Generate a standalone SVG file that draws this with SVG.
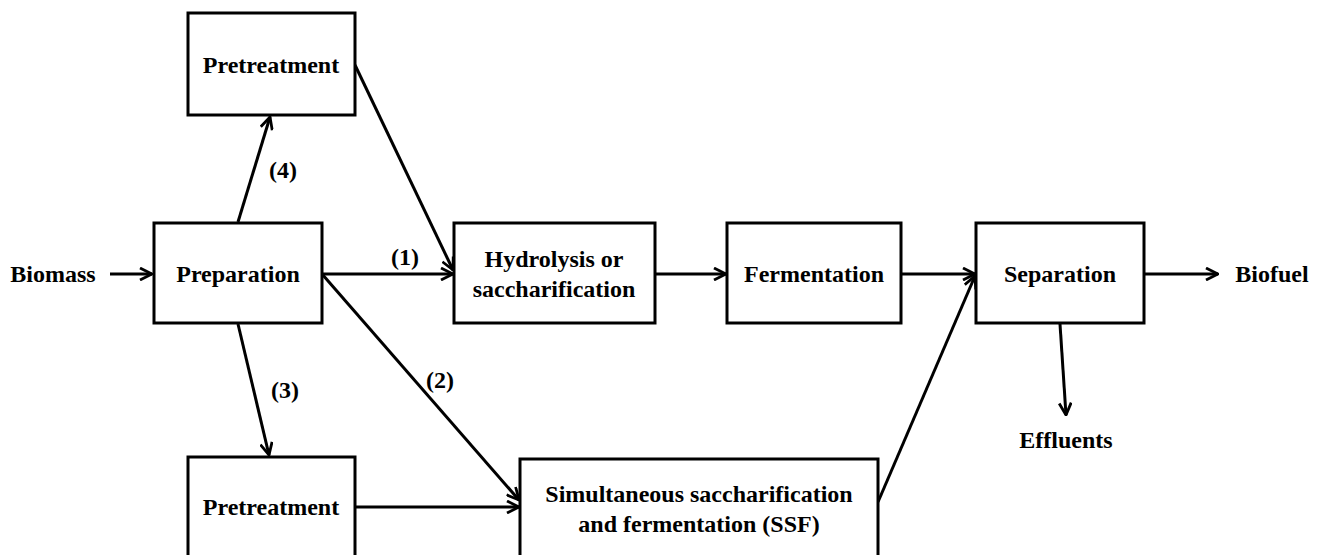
<svg xmlns="http://www.w3.org/2000/svg" width="1322" height="555" viewBox="0 0 1322 555">
<style>
.box{fill:#fff;stroke:#000;stroke-width:3}
.t{font-family:"Liberation Serif","Times New Roman",serif;font-weight:bold;font-size:24px;fill:#000;text-anchor:middle}
.c{stroke:#000;stroke-width:3;fill:none;marker-end:url(#ah)}
</style>
<defs>
<marker id="ah" viewBox="0 0 14 14" refX="13" refY="7" markerWidth="14" markerHeight="14" markerUnits="userSpaceOnUse" orient="auto">
<path d="M1,1 L13,7 L1,13" fill="none" stroke="#000" stroke-width="2.8"/>
</marker>
</defs>
<rect width="1322" height="555" fill="#fff"/>
<g id="connectors">
<line class="c" x1="110" y1="274" x2="152" y2="274"/>
<line class="c" x1="238" y1="222" x2="270" y2="117"/>
<line class="c" x1="355" y1="65" x2="453" y2="270"/>
<line class="c" x1="322" y1="274" x2="453" y2="274"/>
<line class="c" x1="322" y1="274" x2="519" y2="500"/>
<line class="c" x1="238" y1="324" x2="269" y2="455"/>
<line class="c" x1="355" y1="507" x2="519" y2="507"/>
<line class="c" x1="655" y1="274" x2="726" y2="274"/>
<line class="c" x1="901" y1="274" x2="975" y2="274"/>
<line class="c" x1="878" y1="502" x2="975" y2="276"/>
<line class="c" x1="1144" y1="274" x2="1218" y2="274"/>
<line class="c" x1="1060" y1="324" x2="1066" y2="415"/>
<text class="t" x="283" y="178">(4)</text>
<text class="t" x="405" y="265">(1)</text>
<text class="t" x="440" y="388">(2)</text>
<text class="t" x="285" y="398">(3)</text>
</g>
<g id="biomass"><text class="t" x="53" y="282">Biomass</text></g>
<g id="preparation"><rect class="box" x="154" y="223" width="168" height="100"/><text class="t" x="238" y="282">Preparation</text></g>
<g id="pretreatment-top"><rect class="box" x="188" y="13" width="167" height="102"/><text class="t" x="271" y="73">Pretreatment</text></g>
<g id="hydrolysis"><rect class="box" x="454" y="223" width="201" height="100"/><text class="t" x="554" y="267">Hydrolysis or</text><text class="t" x="554" y="297">saccharification</text></g>
<g id="fermentation"><rect class="box" x="727" y="223" width="174" height="100"/><text class="t" x="814" y="282">Fermentation</text></g>
<g id="separation"><rect class="box" x="976" y="223" width="168" height="100"/><text class="t" x="1060" y="282">Separation</text></g>
<g id="biofuel"><text class="t" x="1272" y="282">Biofuel</text></g>
<g id="effluents"><text class="t" x="1066" y="448">Effluents</text></g>
<g id="pretreatment-bottom"><rect class="box" x="188" y="457" width="167" height="102"/><text class="t" x="271" y="515">Pretreatment</text></g>
<g id="ssf"><rect class="box" x="520" y="459" width="358" height="100"/><text class="t" x="699" y="502">Simultaneous saccharification</text><text class="t" x="699" y="532">and fermentation (SSF)</text></g>
</svg>
